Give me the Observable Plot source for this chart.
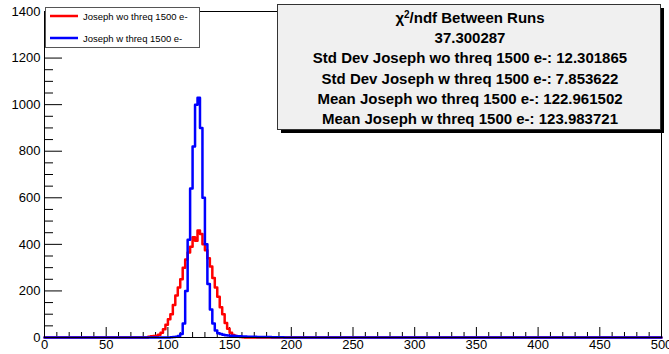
<!DOCTYPE html>
<html><head><meta charset="utf-8">
<script src="https://cdn.jsdelivr.net/npm/d3@7"></script>
<script src="https://cdn.jsdelivr.net/npm/@observablehq/plot@0.6"></script>
<style>
body{margin:0;background:#fff;}
#chart{position:relative;width:669px;height:354px;}
</style>
</head><body><div id="chart"></div>
<script>
// ---- data (bin width 2, counts per bin) ----
const binWidth = 2;
const redFirstBin = 84;
const redCounts = [3, 5, 6, 8, 12, 20, 35, 55, 78, 100, 140, 180, 215, 250, 300, 335, 365, 390, 430, 415, 460, 445, 400, 375, 340, 305, 255, 215, 175, 130, 100, 62, 38, 20, 11, 6, 3, 2, 1];
const blueFirstBin = 102;
const blueCounts = [1, 2, 3, 6, 15, 60, 200, 420, 640, 820, 1000, 1030, 900, 600, 400, 230, 120, 60, 30, 18, 15, 12, 10, 9, 8, 7, 6, 5, 5, 4, 4, 3, 3, 3, 3, 2, 2, 2, 2, 2, 2, 1, 1, 1, 1, 1];
const xTicks = [0, 50, 100, 150, 200, 250, 300, 350, 400, 450, 500];
const yTicks = [0, 200, 400, 600, 800, 1000, 1200, 1400];
const xMinorStep = 10;
const yMinorStep = 50;
const seriesNames = ["Joseph wo threq 1500 e-", "Joseph w threq 1500 e-"];
const seriesColors = ["#ff0000", "#0000ff"];
const statsTitle = ["χ", "2", "/ndf Between Runs"];
const statsLines = [
  "37.300287",
  "Std Dev Joseph wo threq 1500 e-: 12.301865",
  "Std Dev Joseph w threq 1500 e-: 7.853622",
  "Mean Joseph wo threq 1500 e-: 122.961502",
  "Mean Joseph w threq 1500 e-: 123.983721"
];

function toSteps(first, counts, name) {
  const pts = [{x: 0, y: 0, s: name}];
  counts.forEach((c, i) => pts.push({x: first + i * binWidth, y: c, s: name}));
  pts.push({x: first + counts.length * binWidth, y: 0, s: name});
  pts.push({x: 500, y: 0, s: name});
  return pts;
}
const redSteps = toSteps(redFirstBin, redCounts, seriesNames[0]);
const blueSteps = toSteps(blueFirstBin, blueCounts, seriesNames[1]);

const W = 669, H = 354, mL = 44, mR = 8, mT = 11, mB = 17;
const fw = W - mL - mR, fh = H - mT - mB;
const xMinor = d3.range(0, 501, xMinorStep).filter(v => v % 50 !== 0);
const yMinor = d3.range(0, 1401, yMinorStep).filter(v => v % 200 !== 0);

const plot = Plot.plot({
  width: W, height: H,
  marginLeft: mL, marginRight: mR, marginTop: mT, marginBottom: mB,
  style: {fontFamily: "'Liberation Sans', Arial, sans-serif", background: "#fff", color: "#000"},
  x: {domain: [0, 500], label: null},
  y: {domain: [0, 1400], label: null},
  marks: [
    Plot.ruleX(xMinor, {stroke: "#000", strokeWidth: 1, insetTop: fh - 5}),
    Plot.ruleX(xTicks, {stroke: "#000", strokeWidth: 1, insetTop: fh - 10}),
    Plot.ruleY(yMinor, {stroke: "#000", strokeWidth: 1, insetRight: fw - 9}),
    Plot.ruleY(yTicks, {stroke: "#000", strokeWidth: 1, insetRight: fw - 18}),
    Plot.line(redSteps, {x: "x", y: "y", curve: "step-after", stroke: seriesColors[0], strokeWidth: 2.5}),
    Plot.line(blueSteps, {x: "x", y: "y", curve: "step-after", stroke: seriesColors[1], strokeWidth: 2.5}),
    Plot.frame({stroke: "#000", strokeWidth: 1}),
    Plot.axisX({ticks: xTicks, tickSize: 0, tickPadding: 2, fontSize: 13, label: null, tickFormat: d => String(d)}),
    Plot.axisY({ticks: yTicks, tickSize: 0, tickPadding: 4, fontSize: 13, label: null, tickFormat: d => String(d)})
  ]
});
document.getElementById("chart").appendChild(plot);

const svg = d3.select(plot);
// Legend
const lg = svg.append("g").attr("font-family", "'Liberation Sans', Arial, sans-serif");
lg.append("rect").attr("x", 45.5).attr("y", 7.5).attr("width", 154).attr("height", 40)
  .attr("fill", "#fff").attr("stroke", "#555").attr("stroke-width", 1);
seriesNames.forEach((n, i) => {
  const yy = 16 + i * 22;
  lg.append("line").attr("x1", 50).attr("x2", 78).attr("y1", yy).attr("y2", yy)
    .attr("stroke", seriesColors[i]).attr("stroke-width", 2.5);
  lg.append("text").attr("x", 83).attr("y", yy + 3.5).attr("font-size", 9.5)
    .attr("text-anchor", "start").attr("fill", "#000").text(n);
});
// Stats box
const sg = svg.append("g").attr("font-family", "'Liberation Sans', Arial, sans-serif");
sg.append("rect").attr("x", 281).attr("y", 8).attr("width", 383).attr("height", 125).attr("fill", "#000");
sg.append("rect").attr("x", 277.5).attr("y", 4.5).attr("width", 383).attr("height", 125)
  .attr("fill", "#f0f0f0").attr("stroke", "#333").attr("stroke-width", 1);
const title = sg.append("text").attr("x", 470).attr("y", 22.5)
  .attr("text-anchor", "middle").attr("font-size", 15).attr("font-weight", "bold").attr("fill", "#000");
title.append("tspan").text(statsTitle[0]);
title.append("tspan").attr("dy", -5).attr("font-size", 10).text(statsTitle[1]);
title.append("tspan").attr("dy", 5).text(statsTitle[2]);
statsLines.forEach((t, i) => {
  sg.append("text").attr("x", 470).attr("y", 43 + i * 20.3)
    .attr("text-anchor", "middle").attr("font-size", 15).attr("font-weight", "bold").attr("fill", "#000")
    .text(t);
});
</script>
</body></html>
